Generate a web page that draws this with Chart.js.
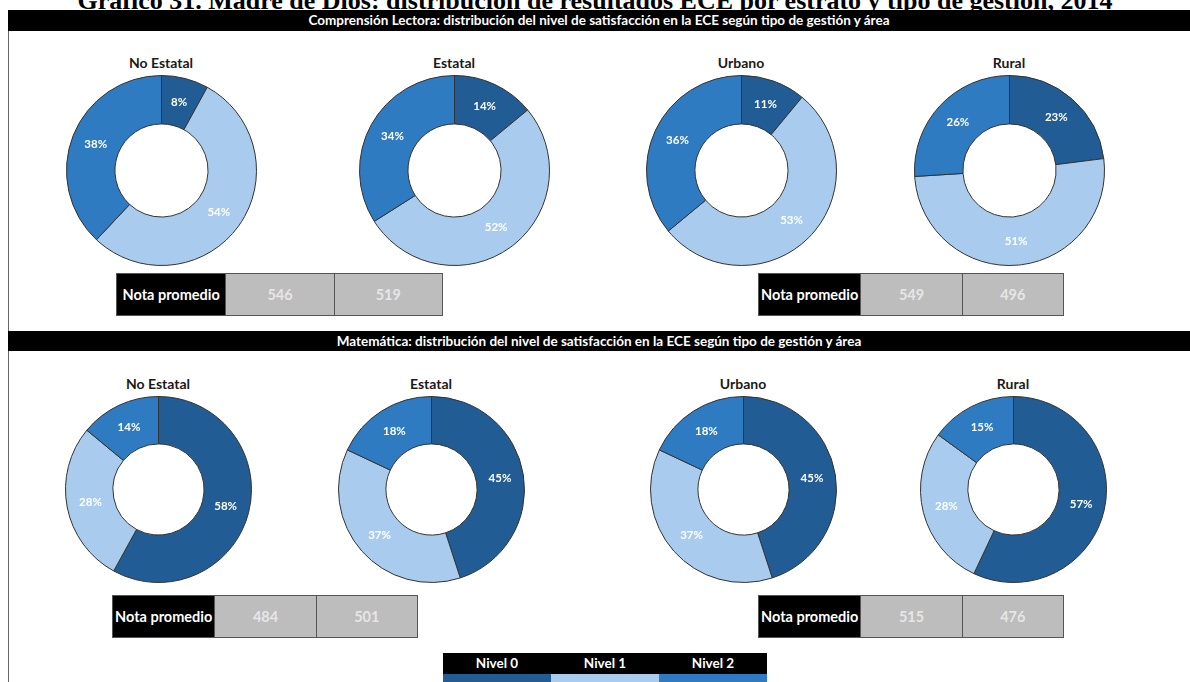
<!DOCTYPE html>
<html><head><meta charset="utf-8">
<script src="https://cdn.jsdelivr.net/npm/chart.js@4"></script>
<style>
html,body{margin:0;padding:0}
body{width:1190px;height:682px;overflow:hidden;background:#fff;position:relative;font-family:Lato,'Open Sans',sans-serif}
.abs{position:absolute}
#title{left:0;width:1190px;top:-14px;height:26px;line-height:26px;text-align:center;font:bold 26px 'Liberation Serif','Times New Roman',serif;color:#000;white-space:nowrap}
.bar{background:#000;color:#fff;font-weight:bold;font-size:13.5px;text-align:center;white-space:nowrap}
.gtitle{font-weight:bold;font-size:14px;color:#1a1a1a;text-align:center;width:160px;white-space:nowrap}
.nota{display:flex;border:1px solid #555;box-sizing:border-box}
.nota div{box-sizing:border-box;display:flex;align-items:center;justify-content:center;font-weight:bold;font-size:14.5px}
.nota .lab{background:#000;color:#fff}
.nota .val{background:#bdbdbd;color:#e6e6e6;border-left:1px solid #555}
.leg{display:flex}
.leg div{box-sizing:border-box;text-align:center}
</style></head>
<body>
<div id="root"></div>
<script>
// ---- data ----
const chartTitle = 'Gráfico 31. Madre de Dios: distribución de resultados ECE por estrato y tipo de gestión, 2014';
const headerLectura = 'Comprensión Lectora: distribución del nivel de satisfacción en la ECE según tipo de gestión y área';
const headerMat = 'Matemática: distribución del nivel de satisfacción en la ECE según tipo de gestión y área';
const grupos = ['No Estatal', 'Estatal', 'Urbano', 'Rural'];
const niveles = ['Nivel 0', 'Nivel 1', 'Nivel 2'];
const lecturaNivel0 = [8, 14, 11, 23];
const lecturaNivel1 = [54, 52, 53, 51];
const lecturaNivel2 = [38, 34, 36, 26];
const matNivel0 = [58, 45, 45, 57];
const matNivel1 = [28, 37, 37, 28];
const matNivel2 = [14, 18, 18, 15];
const notaLabel = 'Nota promedio';
const notaLectura = [546, 519, 549, 496];
const notaMat = [484, 501, 515, 476];

// ---- styles / layout ----
const colores = ['#215c94', '#a9ccee', '#2e7bc2'];
const root = document.getElementById('root');
function el(cls, css, html) {
  const d = document.createElement('div');
  d.className = 'abs ' + (cls || '');
  Object.assign(d.style, css);
  if (html !== undefined) d.textContent = html;
  root.appendChild(d);
  return d;
}
const t = el('', {}, chartTitle);
t.id = 'title';
// frame line
el('', {left: '8px', top: '30px', width: '1px', height: '660px', background: '#666'});
el('bar', {left: '8px', top: '10px', width: '1182px', height: '21px', lineHeight: '21px'}, headerLectura);
el('bar', {left: '8px', top: '331px', width: '1182px', height: '20px', lineHeight: '20px'}, headerMat);

const pctPlugin = {
  id: 'pct',
  afterDatasetsDraw(chart) {
    const ctx = chart.ctx;
    const ds = chart.data.datasets[0];
    const meta = chart.getDatasetMeta(0);
    ctx.save();
    ctx.font = 'bold 11.5px Lato, sans-serif';
    ctx.fillStyle = '#ffffff';
    ctx.textAlign = 'center';
    ctx.textBaseline = 'middle';
    meta.data.forEach((arc, i) => {
      const p = arc.tooltipPosition();
      ctx.fillText(ds.data[i] + '%', p.x, p.y);
    });
    ctx.restore();
  }
};

function donut(cx, cy, r, values, name, titleY) {
  const size = 2 * r + 1;
  const c = document.createElement('canvas');
  c.width = size; c.height = size;
  c.className = 'abs';
  c.style.left = (cx - size / 2) + 'px';
  c.style.top = (cy - size / 2) + 'px';
  root.appendChild(c);
  el('gtitle', {left: (cx - 80) + 'px', top: (titleY - 9) + 'px', height: '18px', lineHeight: '18px'}, name);
  new Chart(c, {
    type: 'doughnut',
    data: {
      labels: niveles,
      datasets: [{data: values, backgroundColor: colores, borderColor: '#333333', borderWidth: 1}]
    },
    options: {
      responsive: false, animation: false, cutout: '49%',
      layout: {padding: 0},
      plugins: {legend: {display: false}, tooltip: {enabled: false}}
    },
    plugins: [pctPlugin]
  });
}

const topX = [161, 454, 741, 1009];
const botX = [158, 431, 743, 1013];
for (let i = 0; i < 4; i++) {
  donut(topX[i], 170, 95, [lecturaNivel0[i], lecturaNivel1[i], lecturaNivel2[i]], grupos[i], 63);
  donut(botX[i], 489, 93, [matNivel0[i], matNivel1[i], matNivel2[i]], grupos[i], 384);
}

function nota(x, y, w, vals) {
  const d = el('nota', {left: x + 'px', top: y + 'px', width: (3 * w) + 'px', height: '43px'});
  const a = document.createElement('div'); a.className = 'lab'; a.style.width = w + 'px'; a.textContent = notaLabel; d.appendChild(a);
  vals.forEach(v => {
    const b = document.createElement('div'); b.className = 'val'; b.style.width = w + 'px'; b.textContent = v; d.appendChild(b);
  });
}
nota(116, 273, 109, [notaLectura[0], notaLectura[1]]);
nota(758, 273, 102, [notaLectura[2], notaLectura[3]]);
nota(112, 595, 102, [notaMat[0], notaMat[1]]);
nota(758, 595, 102, [notaMat[2], notaMat[3]]);

// legend
const leg = el('', {left: '443px', top: '653px', width: '325px'});
const head = document.createElement('div'); head.className = 'leg';
const strip = document.createElement('div'); strip.className = 'leg';
niveles.forEach((n, i) => {
  const h = document.createElement('div');
  Object.assign(h.style, {width: '108px', height: '21px', lineHeight: '21px', background: '#000', color: '#fff', fontWeight: 'bold', fontSize: '13.5px'});
  h.textContent = n; head.appendChild(h);
  const s = document.createElement('div');
  Object.assign(s.style, {width: '108px', height: '12px', background: colores[i]});
  strip.appendChild(s);
});
leg.appendChild(head); leg.appendChild(strip);
</script>
</body></html>
